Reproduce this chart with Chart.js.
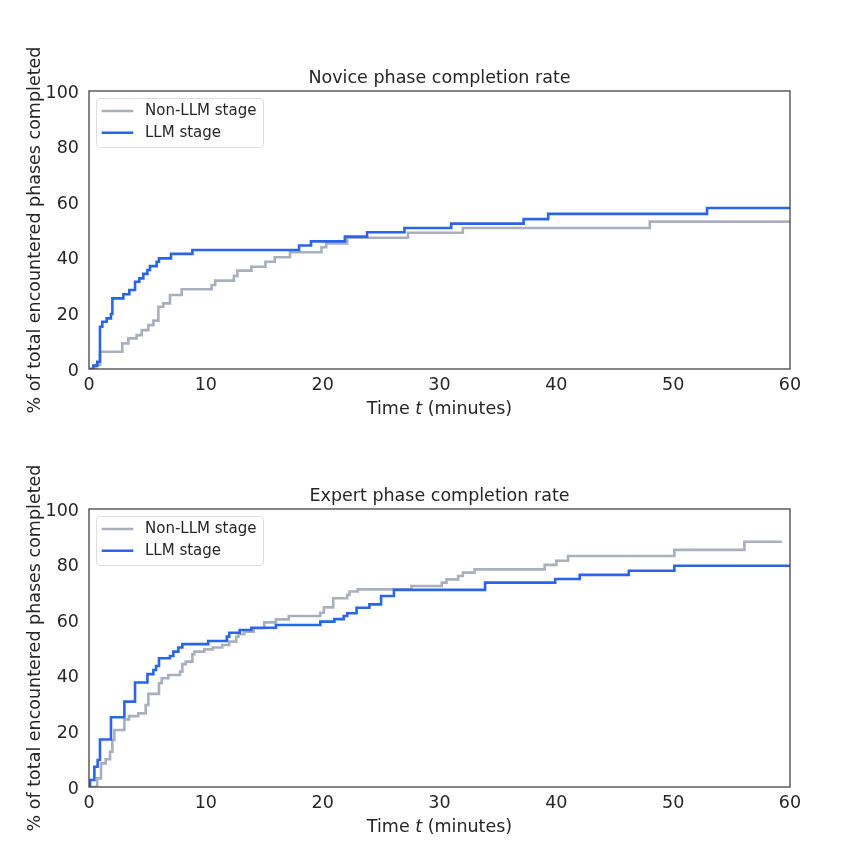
<!DOCTYPE html>
<html>
<head>
<meta charset="utf-8">
<script src="https://cdn.jsdelivr.net/npm/chart.js@4.4.0/dist/chart.umd.min.js"></script>
<style>
  body { margin: 0; background: #fff; }
  #wrap { position: relative; width: 850px; height: 861px; }
  canvas { position: absolute; left: 0; }
</style>
</head>
<body>
<div id="wrap">
  <canvas id="novice" width="850" height="440" style="top:0"></canvas>
  <canvas id="expert" width="850" height="440" style="top:418px"></canvas>
</div>
<script>
// minutes / percent
const noviceNonT = [0, 0.6, 0.94, 2.85, 3.37, 4.08, 4.51, 5.08, 5.51, 5.94, 6.36, 6.93, 7.93, 10.5, 10.8, 12.4, 12.7, 13.9, 15.1, 15.9, 17.2, 19.9, 20.3, 22.1, 27.3, 32.0, 48.0, 60];
const noviceNonP = [0, 1.5, 6.2, 9.2, 11.0, 12.2, 14.0, 15.8, 17.4, 22.4, 23.6, 26.6, 28.7, 30.2, 31.8, 33.5, 35.4, 36.8, 38.6, 40.2, 42.0, 43.8, 45.2, 47.2, 49.0, 50.7, 53.0, 53.0];
const noviceLlmT = [0, 0.37, 0.71, 0.94, 1.14, 1.51, 1.88, 2.0, 2.94, 3.45, 3.94, 4.31, 4.65, 5.0, 5.22, 5.79, 5.99, 7.02, 8.85, 17.98, 19.0, 21.9, 23.8, 27.0, 31.0, 37.2, 39.3, 52.9, 60];
const noviceLlmP = [0, 1.2, 2.6, 15.2, 17.0, 18.2, 19.8, 25.4, 26.9, 28.4, 31.4, 32.6, 34.2, 35.6, 37.0, 38.6, 39.8, 41.4, 42.8, 44.4, 45.9, 47.6, 49.2, 50.7, 52.3, 53.9, 55.8, 57.9, 57.9];

const expertNonT = [0, 0.7, 1.03, 1.43, 1.8, 2.0, 2.17, 3.03, 3.42, 4.22, 4.85, 5.08, 5.99, 6.22, 6.79, 7.79, 7.99, 8.28, 8.85, 9.02, 9.87, 10.6, 11.4, 12.0, 12.6, 12.8, 13.3, 14.1, 15.0, 16.0, 17.1, 19.8, 20.1, 20.9, 22.1, 22.3, 23.0, 27.6, 30.2, 30.6, 31.6, 32.0, 33.0, 39.0, 40.0, 41.0, 50.1, 56.1, 59.3];
const expertNonP = [0, 3.1, 8.5, 10.0, 12.7, 16.9, 20.5, 24.3, 25.5, 26.5, 29.5, 33.5, 37.3, 39.1, 40.3, 41.5, 44.2, 45.1, 47.8, 48.7, 49.5, 50.2, 51.1, 52.3, 54.1, 55.0, 55.9, 57.1, 59.2, 60.3, 61.5, 62.7, 64.6, 67.9, 69.1, 70.3, 71.1, 72.3, 73.5, 74.7, 75.9, 77.1, 78.3, 79.9, 81.4, 83.1, 85.3, 88.2, 88.2];
const expertLlmT = [0, 0.09, 0.46, 0.74, 0.94, 1.88, 3.03, 3.94, 5.0, 5.51, 5.74, 5.99, 6.93, 7.22, 7.65, 7.99, 10.2, 11.8, 12.0, 12.9, 13.9, 16.0, 19.8, 21.0, 21.8, 22.1, 22.9, 24.0, 25.0, 26.1, 33.9, 39.9, 42.0, 46.2, 50.1, 60];
const expertLlmP = [0, 2.5, 7.3, 9.7, 17.1, 25.1, 30.7, 37.6, 40.6, 42.1, 43.5, 46.3, 47.1, 48.7, 50.2, 51.4, 52.5, 54.1, 55.5, 56.5, 57.3, 58.3, 59.5, 60.4, 61.5, 62.5, 64.5, 65.7, 68.7, 70.9, 73.5, 74.8, 76.3, 77.8, 79.6, 79.6];

const xTicks = [0, 10, 20, 30, 40, 50, 60];
const yTicks = [0, 20, 40, 60, 80, 100];
const seriesLabels = ['Non-LLM stage', 'LLM stage'];

const GRAY = '#a9b0bd';
const BLUE = '#2865e8';
const TEXT = '#262626';
const FONT = '"DejaVu Sans", sans-serif';

function toXY(ts, ps) {
  return ts.map((t, i) => ({ x: t, y: ps[i] }));
}

// full box round the plot, like the matplotlib spines
const frame = {
  id: 'frame',
  afterDraw(chart) {
    const { ctx, chartArea: a } = chart;
    ctx.save();
    ctx.strokeStyle = '#444';
    ctx.lineWidth = 1.3;
    ctx.strokeRect(a.left, a.top, a.right - a.left, a.bottom - a.top);
    ctx.restore();
  }
};

// legend inside the plot, top left
const boxLegend = {
  id: 'boxLegend',
  afterDraw(chart) {
    const { ctx, chartArea: a } = chart;
    const x = a.left + 7, y = a.top + 7;
    ctx.save();
    ctx.beginPath();
    ctx.roundRect(x + 0.5, y + 0.5, 167, 49, 3);
    ctx.fillStyle = 'rgba(255,255,255,0.8)';
    ctx.fill();
    ctx.strokeStyle = '#dedede';
    ctx.lineWidth = 1;
    ctx.stroke();
    chart.data.datasets.forEach((ds, i) => {
      const ly = a.top + 20 + i * 21.7;
      ctx.beginPath();
      ctx.moveTo(a.left + 12.7, ly);
      ctx.lineTo(a.left + 44.3, ly);
      ctx.strokeStyle = ds.borderColor;
      ctx.lineWidth = 2.6;
      ctx.stroke();
      ctx.fillStyle = TEXT;
      ctx.font = '15px ' + FONT;
      ctx.textBaseline = 'middle';
      ctx.fillText(ds.label, a.left + 56, ly);
    });
    ctx.restore();
  }
};

// x axis title with an italic t
const timeTitle = {
  id: 'timeTitle',
  afterDraw(chart) {
    const { ctx, chartArea: a } = chart;
    const parts = [['Time ', ''], ['t', 'italic '], [' (minutes)', '']];
    ctx.save();
    ctx.fillStyle = TEXT;
    ctx.textBaseline = 'middle';
    ctx.textAlign = 'left';
    let total = 0;
    const widths = parts.map(p => {
      ctx.font = p[1] + '17.5px ' + FONT;
      const w = ctx.measureText(p[0]).width;
      total += w;
      return w;
    });
    let x = (a.left + a.right) / 2 - total / 2;
    const y = a.bottom + 40.5;
    parts.forEach((p, i) => {
      ctx.font = p[1] + '17.5px ' + FONT;
      ctx.fillText(p[0], x, y);
      x += widths[i];
    });
    ctx.restore();
  }
};

function makeChart(id, title, nonT, nonP, llmT, llmP) {
  const tickFont = { family: FONT, size: 17.5 };
  return new Chart(document.getElementById(id), {
    type: 'line',
    data: {
      datasets: [
        { label: seriesLabels[0], data: toXY(nonT, nonP), borderColor: GRAY, order: 1 },
        { label: seriesLabels[1], data: toXY(llmT, llmP), borderColor: BLUE, order: 0 }
      ]
    },
    options: {
      responsive: false,
      animation: false,
      layout: { padding: { left: 0, right: 60, top: 0, bottom: 0 } },
      elements: {
        point: { radius: 0 },
        line: { borderWidth: 2.6, stepped: true, fill: false }
      },
      plugins: {
        legend: { display: false },
        tooltip: { enabled: false },
        title: {
          display: true,
          fullSize: false,
          text: title,
          color: TEXT,
          font: { family: FONT, size: 17.5, weight: 'normal' },
          padding: { top: 68, bottom: 2 }
        }
      },
      scales: {
        x: {
          type: 'linear',
          min: 0,
          max: 60,
          afterBuildTicks: s => { s.ticks = xTicks.map(v => ({ value: v })); },
          ticks: { color: TEXT, font: tickFont, padding: 6, maxRotation: 0 },
          grid: { display: false, drawTicks: false },
          border: { display: false },
          afterFit: s => { s.height = 71; }
        },
        y: {
          min: 0,
          max: 100,
          afterBuildTicks: s => { s.ticks = yTicks.map(v => ({ value: v })); },
          ticks: { color: TEXT, font: tickFont, padding: 10, labelOffset: 2 },
          grid: { display: false, drawTicks: false },
          border: { display: false },
          title: {
            display: true,
            text: '% of total encountered phases completed',
            color: TEXT,
            font: { family: FONT, size: 17.5 },
            padding: { top: 25, bottom: 0 }
          },
          afterFit: s => { s.width = 89; }
        }
      }
    },
    plugins: [frame, boxLegend, timeTitle]
  });
}

makeChart('novice', 'Novice phase completion rate', noviceNonT, noviceNonP, noviceLlmT, noviceLlmP);
makeChart('expert', 'Expert phase completion rate', expertNonT, expertNonP, expertLlmT, expertLlmP);
</script>
</body>
</html>
